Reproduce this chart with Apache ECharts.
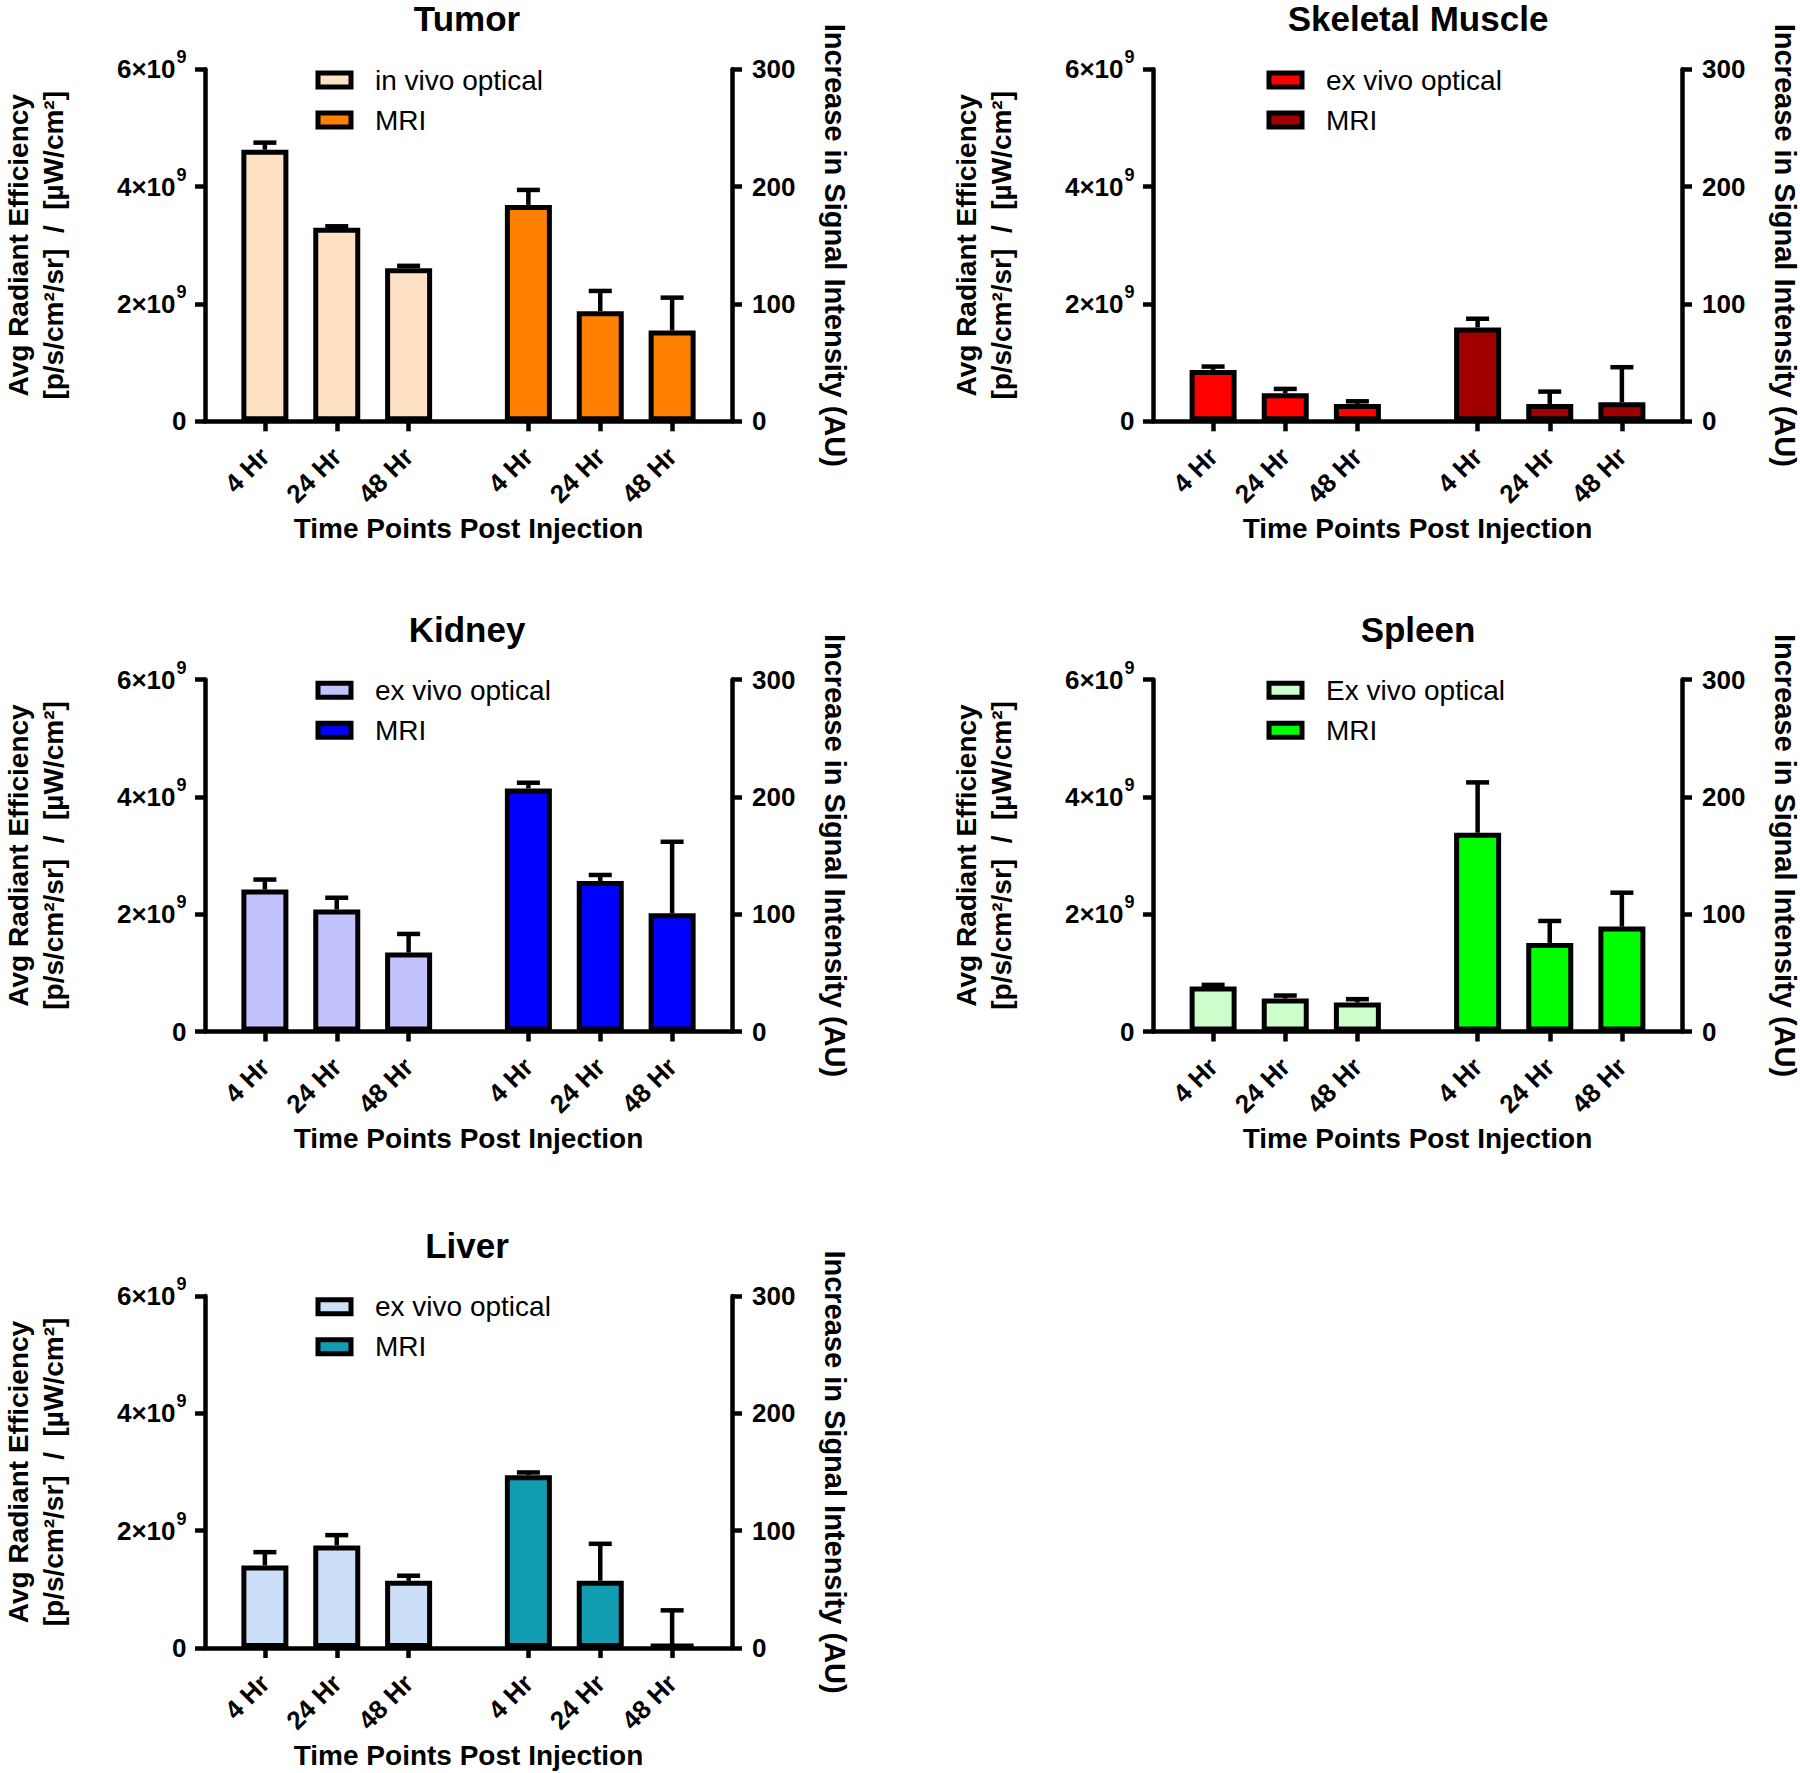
<!DOCTYPE html>
<html><head><meta charset="utf-8">
<script src="https://cdn.jsdelivr.net/npm/echarts@6/dist/echarts.min.js"></script>
<style>html,body{margin:0;padding:0;background:#fff}#chart{width:1800px;height:1773px}</style>
</head><body><div id="chart"></div>
<script>
// ---------------- data ----------------
const organs = ['Tumor', 'Skeletal Muscle', 'Kidney', 'Spleen', 'Liver'];
const timePoints = ['4 Hr', '24 Hr', '48 Hr'];
const opticalNames = ['in vivo optical', 'ex vivo optical', 'ex vivo optical', 'Ex vivo optical', 'ex vivo optical'];
const mriName = 'MRI';
const leftTicks = [0, 2e9, 4e9, 6e9];     // Avg Radiant Efficiency
const rightTicks = [0, 100, 200, 300];    // Increase in Signal Intensity (AU)

// optical: mean and upper error (SEM), p/s/cm²/sr / µW/cm²
const tumorOptical = [4.63e9, 3.30e9, 2.61e9];
const tumorOpticalErr = [0.12e9, 0.024e9, 0.04e9];
const muscleOptical = [0.876e9, 0.478e9, 0.296e9];
const muscleOpticalErr = [0.057e9, 0.074e9, 0.045e9];
const kidneyOptical = [2.42e9, 2.08e9, 1.345e9];
const kidneyOpticalErr = [0.17e9, 0.2e9, 0.318e9];
const spleenOptical = [0.766e9, 0.562e9, 0.494e9];
const spleenOpticalErr = [0.029e9, 0.051e9, 0.057e9];
const liverOptical = [1.407e9, 1.748e9, 1.146e9];
const liverOpticalErr = [0.227e9, 0.176e9, 0.086e9];

// MRI: mean and upper error, AU
const tumorMRI = [184.4, 93.8, 77.3];
const tumorMRIErr = [12.8, 17.3, 28.1];
const muscleMRI = [80, 14.8, 16.2];
const muscleMRIErr = [7.4, 10.5, 29.9];
const kidneyMRI = [207.2, 128.3, 100.7];
const kidneyMRIErr = [4.8, 5.1, 61];
const spleenMRI = [169.4, 75.5, 89.4];
const spleenMRIErr = [42.9, 18.7, 28.9];
const liverMRI = [147.3, 57.3, 3.4];
const liverMRIErr = [2.3, 31.5, 28.7];

const opticalMeans = [tumorOptical, muscleOptical, kidneyOptical, spleenOptical, liverOptical];
const opticalErrs = [tumorOpticalErr, muscleOpticalErr, kidneyOpticalErr, spleenOpticalErr, liverOpticalErr];
const mriMeans = [tumorMRI, muscleMRI, kidneyMRI, spleenMRI, liverMRI];
const mriErrs = [tumorMRIErr, muscleMRIErr, kidneyMRIErr, spleenMRIErr, liverMRIErr];

// ---------------- style / layout ----------------
const opticalColors = ['#FFE1C3', '#FF0000', '#C2C2FF', '#CCFFCC', '#CBE0F8'];
const mriColors = ['#FF8000', '#A00000', '#0000FF', '#00FF00', '#129DB3'];
const PANEL_LEFT = [202, 1153, 202, 1153, 202];
const PANEL_TOP = [69.3, 69.3, 679.5, 679.5, 1296];
const GW = 530, GH = 352;
const FONT = "'Liberation Sans', Arial, Helvetica, sans-serif";
const LW = 4.5;

// category slots along the x axis (group gap between optical and MRI)
const LEAD = 5, STEP = 6, GAP = 10, TAIL = 5;
const opticalSlots = timePoints.map((_, i) => LEAD + STEP * i);
const mriSlots = timePoints.map((_, i) => opticalSlots[opticalSlots.length - 1] + GAP + STEP * i);
const nSlots = mriSlots[mriSlots.length - 1] + TAIL + 1;
const slotLabel = new Array(nSlots).fill('');
opticalSlots.forEach((s, i) => slotLabel[s] = timePoints[i]);
mriSlots.forEach((s, i) => slotLabel[s] = timePoints[i]);
const slotIds = slotLabel.map((_, i) => String(i));
const showSlot = (idx) => slotLabel[idx] !== '';

function slotData(slots, vals) {
  const arr = new Array(nSlots).fill(null);
  slots.forEach((s, i) => arr[s] = vals[i]);
  return arr;
}

function errRender(params, api) {
  const base = api.coord([api.value(0), api.value(1)]);
  const top = api.coord([api.value(0), api.value(2)]);
  return {
    type: 'group',
    children: [
      { type: 'line', shape: { x1: base[0], y1: base[1], x2: base[0], y2: top[1] }, style: { stroke: '#000', lineWidth: LW } },
      { type: 'line', shape: { x1: base[0] - 11.5, y1: top[1], x2: base[0] + 11.5, y2: top[1] }, style: { stroke: '#000', lineWidth: LW } }
    ]
  };
}

const axisLineStyle = { color: '#000', width: LW };
const grids = [], xAxes = [], yAxes = [], series = [], legends = [], graphics = [];

organs.forEach((organ, k) => {
  const L = PANEL_LEFT[k], T = PANEL_TOP[k];
  grids.push({ left: L, top: T, width: GW, height: GH });
  xAxes.push({
    type: 'category', gridIndex: k, data: slotIds, boundaryGap: false,
    axisLine: { lineStyle: axisLineStyle },
    axisTick: { interval: showSlot, length: 10, lineStyle: axisLineStyle },
    axisLabel: { interval: showSlot, rotate: 45, margin: 31, formatter: (v) => slotLabel[+v],
      fontSize: 26, fontWeight: 'bold', color: '#000', fontFamily: FONT },
    splitLine: { show: false },
    name: 'Time Points Post Injection', nameLocation: 'middle', nameGap: 93,
    nameTextStyle: { fontSize: 28, fontWeight: 'bold', color: '#000', fontFamily: FONT }
  });
  yAxes.push({
    type: 'value', gridIndex: k, position: 'left',
    min: leftTicks[0], max: leftTicks[leftTicks.length - 1], interval: leftTicks[1] - leftTicks[0],
    axisLine: { show: true, lineStyle: axisLineStyle },
    axisTick: { show: true, length: 10, lineStyle: axisLineStyle },
    splitLine: { show: false },
    axisLabel: {
      margin: 18.5,
      formatter: (v) => v === 0 ? '{m|0}' : '{m|' + (v / 1e9) + '×10}{s|9}',
      rich: {
        m: { fontSize: 26, fontWeight: 'bold', fontFamily: FONT, color: '#000' },
        s: { fontSize: 18, fontWeight: 'bold', fontFamily: FONT, color: '#000', padding: [0, 0, 24, 1] }
      }
    },
    name: 'Avg Radiant Efficiency\n[p/s/cm²/sr]  /  [µW/cm²]',
    nameLocation: 'middle', nameRotate: 90, nameGap: 134,
    nameTextStyle: { fontSize: 28, fontWeight: 'bold', color: '#000', fontFamily: FONT, lineHeight: 35 }
  });
  yAxes.push({
    type: 'value', gridIndex: k, position: 'right',
    min: rightTicks[0], max: rightTicks[rightTicks.length - 1], interval: rightTicks[1] - rightTicks[0],
    axisLine: { show: true, lineStyle: axisLineStyle },
    axisTick: { show: true, length: 10, lineStyle: axisLineStyle },
    splitLine: { show: false },
    axisLabel: { margin: 20, fontSize: 26, fontWeight: 'bold', color: '#000', fontFamily: FONT },
    name: 'Increase in Signal Intensity (AU)',
    nameLocation: 'middle', nameRotate: -90, nameGap: 88,
    nameTextStyle: { fontSize: 29, fontWeight: 'bold', color: '#000', fontFamily: FONT }
  });
  const optKey = organ + '|' + opticalNames[k];
  const mriKey = organ + '|' + mriName;
  series.push({
    type: 'bar', name: optKey, xAxisIndex: k, yAxisIndex: 2 * k,
    data: slotData(opticalSlots, opticalMeans[k]), barWidth: 47, barGap: '-100%', z: 3,
    itemStyle: { color: opticalColors[k], borderColor: '#000', borderWidth: 5 }
  });
  series.push({
    type: 'bar', name: mriKey, xAxisIndex: k, yAxisIndex: 2 * k + 1,
    data: slotData(mriSlots, mriMeans[k]), barWidth: 47, barGap: '-100%', z: 3,
    itemStyle: { color: mriColors[k], borderColor: '#000', borderWidth: 5 }
  });
  series.push({
    type: 'custom', xAxisIndex: k, yAxisIndex: 2 * k, z: 2, silent: true,
    renderItem: errRender, encode: { x: 0, y: [1, 2] },
    data: opticalSlots.map((s, i) => [s, opticalMeans[k][i], opticalMeans[k][i] + opticalErrs[k][i]])
  });
  series.push({
    type: 'custom', xAxisIndex: k, yAxisIndex: 2 * k + 1, z: 2, silent: true,
    renderItem: errRender, encode: { x: 0, y: [1, 2] },
    data: mriSlots.map((s, i) => [s, mriMeans[k][i], mriMeans[k][i] + mriErrs[k][i]])
  });
  legends.push({
    data: [optKey, mriKey], orient: 'vertical', left: L + 113.5, top: T - 4.3, padding: 0,
    itemWidth: 33, itemHeight: 14, itemGap: 10, icon: 'rect', selectedMode: false,
    formatter: (n) => n.split('|')[1],
    itemStyle: { borderColor: '#000', borderWidth: 5 },
    textStyle: { fontSize: 28, color: '#000', fontFamily: FONT, lineHeight: 30, padding: [0, 0, 0, 19] }
  });
  graphics.push({
    type: 'text', x: L + GW / 2, y: T - 68,
    style: { text: organ, fontSize: 35, fontWeight: 'bold', fontFamily: FONT, fill: '#000', align: 'center', verticalAlign: 'top' }
  });
});

const chart = echarts.init(document.getElementById('chart'), null, { renderer: 'svg' });
chart.setOption({
  animation: false,
  backgroundColor: '#fff',
  grid: grids, xAxis: xAxes, yAxis: yAxes, series: series, legend: legends, graphic: graphics
});
</script></body></html>
